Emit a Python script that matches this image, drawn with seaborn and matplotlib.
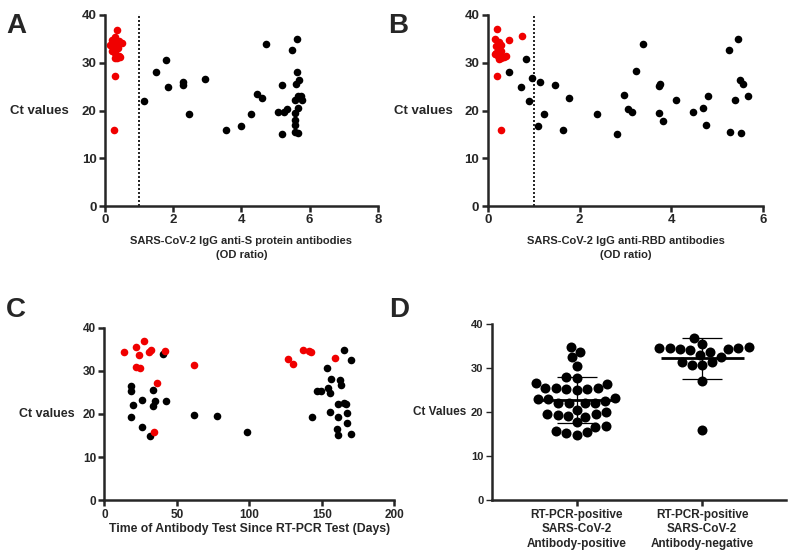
import numpy as np
import pandas as pd
import seaborn as sns
import matplotlib.pyplot as plt

# Panel A: anti-S protein OD ratio vs Ct
a_pos_od = [1.15, 1.49, 1.78, 1.84, 2.28, 2.28, 2.47, 2.94, 3.56, 3.98, 4.28, 4.45, 4.60, 4.72,
            5.18, 5.07, 5.25, 5.34, 5.20, 5.49, 5.63, 5.62, 5.69, 5.60, 5.65, 5.75, 5.57, 5.79,
            5.65, 5.56, 5.58, 5.58, 5.56, 5.65]
a_pos_ct = [22.0, 28.0, 30.6, 25.0, 26.0, 25.3, 19.2, 26.7, 15.9, 16.7, 19.2, 23.4, 22.7, 33.9,
            25.3, 19.7, 19.7, 20.3, 15.0, 32.6, 35.0, 28.1, 26.4, 25.5, 23.1, 23.1, 22.3, 22.1,
            20.6, 19.5, 18.0, 16.9, 15.5, 15.3]
a_neg_od = [0.35, 0.20, 0.28, 0.42, 0.50, 0.15, 0.25, 0.30, 0.38, 0.22, 0.32, 0.40, 0.35, 0.30,
            0.45, 0.28, 0.30, 0.25]
a_neg_ct = [36.9, 34.8, 35.3, 34.5, 34.1, 33.8, 34.3, 33.5, 33.0, 32.5, 31.6, 31.5, 30.9, 31.0,
            31.2, 32.0, 27.2, 16.0]

# Panel B: anti-RBD OD ratio vs Ct
b_pos_od = [0.83, 0.46, 0.96, 0.72, 0.90, 1.13, 1.10, 1.23, 1.47, 1.63, 1.77, 2.39, 2.81, 2.96,
            3.06, 3.15, 3.23, 3.39, 3.73, 3.76, 3.73, 3.82, 4.11, 4.48, 4.68, 4.75, 4.80, 5.25,
            5.44, 5.49, 5.55, 5.39, 5.28, 5.52, 5.67]
b_pos_ct = [30.7, 28.0, 26.8, 25.0, 22.0, 26.0, 16.7, 19.3, 25.3, 15.9, 22.7, 19.3, 15.0, 23.3,
            20.3, 19.7, 28.2, 34.0, 25.2, 25.5, 19.5, 17.9, 22.3, 19.7, 20.5, 17.0, 23.1, 32.7,
            35.0, 26.4, 25.6, 22.1, 15.5, 15.3, 23.0]
b_neg_od = [0.20, 0.74, 0.46, 0.15, 0.24, 0.30, 0.17, 0.25, 0.28, 0.18, 0.22, 0.40, 0.35, 0.30,
            0.15, 0.25, 0.21, 0.29]
b_neg_ct = [37.0, 35.6, 34.8, 34.9, 34.3, 33.8, 33.4, 33.0, 32.5, 32.0, 31.5, 31.5, 31.2, 30.9,
            31.8, 30.8, 27.2, 16.0]

# Panel C: days since RT-PCR vs Ct
c_pos_day = [18.6, 18.6, 19.7, 18.6, 25.7, 25.7, 31.7, 33.8, 34.7, 33.8, 42.7, 40.6, 61.8, 77.6,
             98.3, 146.5, 149.5, 143.5, 153.4, 156.4, 154.1, 155.5, 155.5, 160.5, 161.4, 161.4,
             161.4, 162.3, 163.3, 165.3, 166.4, 165.3, 167.4, 167.4, 170.4, 170.4]
c_pos_ct = [26.4, 25.3, 22.0, 19.2, 23.3, 16.9, 14.9, 25.6, 22.9, 21.9, 23.0, 33.9, 19.7, 19.5,
            15.8, 25.4, 25.2, 19.2, 30.6, 28.0, 25.9, 24.9, 20.5, 16.5, 15.1, 22.2, 19.4, 27.8,
            26.6, 22.6, 22.2, 34.9, 20.2, 17.8, 32.5, 15.4]
c_neg_day = [13.8, 21.6, 27.6, 23.6, 30.8, 31.9, 21.6, 24.6, 41.6, 36.5, 34.0, 61.8, 126.5,
             130.4, 137.1, 141.4, 142.8, 159.4]
c_neg_ct = [34.4, 35.4, 36.8, 33.6, 34.3, 34.7, 30.8, 30.7, 34.6, 27.1, 15.9, 31.4, 32.7, 31.5,
            34.7, 34.6, 34.4, 33.0]

# Panel D: Ct by antibody status
d_groups = ["RT-PCR-positive\nSARS-CoV-2\nAntibody-positive",
            "RT-PCR-positive\nSARS-CoV-2\nAntibody-negative"]
d_pos_ct = [34.8, 33.8, 32.5, 30.5, 28.0, 27.8, 26.7, 26.4, 25.5, 25.2, 25.5, 25.2, 25.4, 25.0,
            23.2, 23.0, 23.1, 22.5, 22.0, 22.0, 22.0, 22.2, 20.5, 20.0, 19.5, 19.4, 19.5, 19.0,
            19.1, 17.7, 16.9, 16.7, 15.8, 15.2, 15.4, 14.8]
d_neg_ct = [36.8, 35.5, 34.1, 34.6, 34.6, 34.8, 34.4, 34.3, 34.7, 33.7, 33.0, 32.6, 31.4, 31.4,
            30.8, 30.8, 27.2, 16.0]

RED = "#f00000"

sns.set_theme(style="ticks")
plt.rcParams["font.family"] = ["Liberation Sans", "DejaVu Sans"]
plt.rcParams["font.weight"] = "bold"
plt.rcParams["axes.linewidth"] = 1.8

fig = plt.figure(figsize=(7.93, 5.54), dpi=100)
axA = fig.add_axes([0.1324, 0.628, 0.344, 0.345])
axB = fig.add_axes([0.615, 0.628, 0.3475, 0.345])
axC = fig.add_axes([0.1316, 0.097, 0.3657, 0.3117])
axD = fig.add_axes([0.620, 0.097, 0.371, 0.3177])


def style_axis(ax, tick_size):
    sns.despine(ax=ax)
    ax.tick_params(axis="both", length=4, width=1.8, labelsize=tick_size, pad=2)
    for lab in ax.get_xticklabels() + ax.get_yticklabels():
        lab.set_fontweight("bold")


def scatter_panel(ax, xp, yp, xn, yn):
    sns.scatterplot(x=xp, y=yp, ax=ax, color="black", s=30, linewidth=0, clip_on=False)
    sns.scatterplot(x=xn, y=yn, ax=ax, color=RED, s=30, linewidth=0, clip_on=False)


# A
scatter_panel(axA, a_pos_od, a_pos_ct, a_neg_od, a_neg_ct)
axA.axvline(1, color="black", ls=(0, (1.2, 1.2)), lw=1.2)
axA.set_xlim(0, 8)
axA.set_ylim(0, 40)
axA.set_xticks([0, 2, 4, 6, 8])
axA.set_yticks([0, 10, 20, 30, 40])
axA.set_xlabel("SARS-CoV-2 IgG anti-S protein antibodies\n(OD ratio)", fontsize=8,
               fontweight="bold", labelpad=7, linespacing=1.45)
axA.set_ylabel("Ct values", rotation=0, ha="right", va="center", fontsize=9.5, fontweight="bold")
axA.yaxis.set_label_coords(-0.132, 0.5)
style_axis(axA, 9.5)

# B
scatter_panel(axB, b_pos_od, b_pos_ct, b_neg_od, b_neg_ct)
axB.axvline(1, color="black", ls=(0, (1.2, 1.2)), lw=1.2)
axB.set_xlim(0, 6)
axB.set_ylim(0, 40)
axB.set_xticks([0, 2, 4, 6])
axB.set_yticks([0, 10, 20, 30, 40])
axB.set_xlabel("SARS-CoV-2 IgG anti-RBD antibodies\n(OD ratio)", fontsize=8,
               fontweight="bold", labelpad=7, linespacing=1.45)
axB.set_ylabel("Ct values", rotation=0, ha="right", va="center", fontsize=9.5, fontweight="bold")
axB.yaxis.set_label_coords(-0.126, 0.5)
style_axis(axB, 9.5)

# C
scatter_panel(axC, c_pos_day, c_pos_ct, c_neg_day, c_neg_ct)
axC.set_xlim(0, 200)
axC.set_ylim(0, 40)
axC.set_xticks([0, 50, 100, 150, 200])
axC.set_yticks([0, 10, 20, 30, 40])
axC.set_xlabel("Time of Antibody Test Since RT-PCR Test (Days)", fontsize=8.8,
               fontweight="bold", labelpad=2)
axC.set_ylabel("Ct values", rotation=0, ha="right", va="center", fontsize=9, fontweight="bold")
axC.yaxis.set_label_coords(-0.104, 0.5)
style_axis(axC, 8.5)

# D
dfD = pd.DataFrame({
    "group": [d_groups[0]] * len(d_pos_ct) + [d_groups[1]] * len(d_neg_ct),
    "ct": d_pos_ct + d_neg_ct,
})
sns.swarmplot(data=dfD, x="group", y="ct", order=d_groups, ax=axD, color="black", size=7.2)
for i, vals in enumerate([d_pos_ct, d_neg_ct]):
    m = np.mean(vals)
    sd = np.std(vals, ddof=1)
    axD.hlines(m, i - 0.33, i + 0.33, color="black", lw=2, zorder=5)
    axD.vlines(i, m - sd, m + sd, color="black", lw=0.9, zorder=5)
    axD.hlines([m - sd, m + sd], i - 0.16, i + 0.16, color="black", lw=0.9, zorder=5)
axD.set_xlim(-0.677, 1.666)
axD.set_ylim(0, 40)
axD.set_yticks([0, 10, 20, 30, 40])
axD.set_xlabel("")
axD.set_ylabel("Ct Values", rotation=0, ha="right", va="center", fontsize=8.5, fontweight="bold")
axD.yaxis.set_label_coords(-0.085, 0.5)
style_axis(axD, 8)
axD.tick_params(axis="x", labelsize=8.5)
axD.tick_params(axis="y", width=1.0)
for lab in axD.get_xticklabels():
    lab.set_linespacing(1.3)

# panel letters
for letter, x, y in [("A", 0.008, 0.94), ("B", 0.489, 0.94), ("C", 0.008, 0.428), ("D", 0.491, 0.428)]:
    fig.text(x, y, letter, fontsize=20, fontweight="bold", va="baseline")

fig.savefig("out.png", dpi=100)
